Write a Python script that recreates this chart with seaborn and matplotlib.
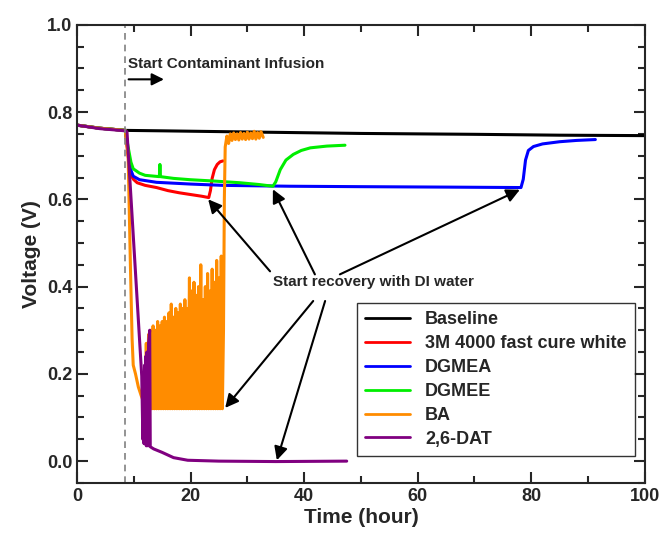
import matplotlib
matplotlib.use("Agg")
import matplotlib.pyplot as plt
from matplotlib.ticker import MultipleLocator
import pandas as pd
import seaborn as sns

sns.set_style("ticks")
plt.rcParams['font.family'] = ['Liberation Sans', 'DejaVu Sans']
plt.rcParams['font.weight'] = 'bold'

# values (time in hours, voltage in V)
base_t = [0, 4, 8.5, 15, 32, 50, 70, 85, 100]
base_v = [0.770, 0.763, 0.758, 0.757, 0.754, 0.751, 0.749, 0.747, 0.746]

red_t = [0, 4, 8.5, 9.0, 9.5, 10, 10.6, 12, 14, 16, 18, 20, 22, 23.2, 23.5, 23.8, 24.2, 24.7, 25.2, 25.7]
red_v = [0.770, 0.763, 0.758, 0.700, 0.655, 0.645, 0.638, 0.632, 0.627, 0.620, 0.615, 0.611, 0.607, 0.604,
         0.620, 0.648, 0.668, 0.680, 0.686, 0.688]

blue_t = [0, 4, 8.5, 9.0, 9.4, 9.9, 11, 14, 20, 25.7, 37.5, 50, 65, 78.2, 78.6, 79.0, 79.5, 80.4, 82, 85, 88, 91.3]
blue_v = [0.770, 0.763, 0.758, 0.710, 0.670, 0.653, 0.645, 0.639, 0.635, 0.632, 0.630, 0.629, 0.628, 0.627,
          0.646, 0.690, 0.712, 0.721, 0.727, 0.732, 0.735, 0.737]

green_t = [0, 4, 8.5, 9.0, 9.5, 9.9, 11, 12, 14.5, 14.6, 14.7, 17, 19.9, 24, 28.7, 32, 34.5, 35.0, 35.8, 36.8,
           38.1, 39.5, 41.1, 44, 47.2]
green_v = [0.770, 0.763, 0.758, 0.720, 0.685, 0.670, 0.660, 0.655, 0.652, 0.680, 0.652, 0.648, 0.645, 0.642,
           0.638, 0.634, 0.630, 0.640, 0.668, 0.690, 0.703, 0.712, 0.718, 0.722, 0.724]

ba_t = [0, 4, 8.5, 9.0, 9.4, 9.7, 9.9, 10.3, 10.8, 11.3, 11.6,
        12.0, 12.2, 12.4, 12.6, 12.8, 13.0, 13.2, 13.4, 13.6, 13.8, 14.0, 14.2, 14.4, 14.6, 14.8,
        15.0, 15.2, 15.4, 15.6, 15.8, 16.0, 16.2, 16.4, 16.6, 16.8, 17.0, 17.2, 17.4, 17.6, 17.8,
        18.0, 18.2, 18.4, 18.6, 18.8, 19.0, 19.2, 19.4, 19.6, 19.8, 20.0, 20.2, 20.4, 20.6, 20.8,
        21.0, 21.2, 21.4, 21.6, 21.8, 22.0, 22.2, 22.4, 22.6, 22.8, 23.0, 23.2, 23.4, 23.6, 23.8,
        24.0, 24.2, 24.4, 24.6, 24.8, 25.0, 25.2, 25.4, 25.6,
        25.8, 25.95, 26.1, 26.4, 26.7, 27.0, 27.3, 27.6, 27.9, 28.2, 28.5, 28.8, 29.1, 29.4, 29.7,
        30.0, 30.3, 30.6, 30.9, 31.2, 31.5, 31.8, 32.1, 32.4, 32.8]
ba_v = [0.770, 0.763, 0.758, 0.700, 0.450, 0.280, 0.220, 0.200, 0.170, 0.150, 0.140,
        0.14, 0.27, 0.13, 0.29, 0.13, 0.30, 0.12, 0.31, 0.12, 0.30, 0.12, 0.32, 0.12, 0.31, 0.12,
        0.32, 0.12, 0.33, 0.12, 0.32, 0.12, 0.34, 0.12, 0.36, 0.12, 0.33, 0.12, 0.35, 0.12, 0.34,
        0.12, 0.36, 0.12, 0.35, 0.12, 0.37, 0.12, 0.35, 0.12, 0.42, 0.12, 0.39, 0.12, 0.41, 0.12,
        0.38, 0.12, 0.40, 0.12, 0.45, 0.12, 0.37, 0.12, 0.40, 0.12, 0.43, 0.12, 0.39, 0.12, 0.44,
        0.12, 0.41, 0.12, 0.46, 0.12, 0.42, 0.12, 0.47, 0.12,
        0.30, 0.60, 0.720, 0.745, 0.728, 0.750, 0.735, 0.752, 0.737, 0.750, 0.736, 0.753, 0.738, 0.751, 0.737,
        0.754, 0.738, 0.752, 0.739, 0.756, 0.738, 0.753, 0.740, 0.755, 0.742]

dat_t = [0, 4, 8.5, 8.8, 11.4, 11.6, 11.7, 11.8, 11.9, 12.0, 12.1, 12.2, 12.3, 12.5, 12.6, 12.8, 12.9,
         13.5, 15, 17, 19.5, 25, 35, 47.5]
dat_v = [0.770, 0.762, 0.757, 0.755, 0.195, 0.05, 0.20, 0.04, 0.22, 0.04, 0.24, 0.035, 0.25, 0.035, 0.27,
         0.30, 0.033, 0.028, 0.020, 0.008, 0.002, 0.0, -0.001, 0.0]

names = ["Baseline", "3M 4000 fast cure white", "DGMEA", "DGMEE", "BA", "2,6-DAT"]
colors = ["black", "#ff0000", "#0000ff", "#00ee00", "#ff8c00", "#800080"]

frames = []
for name, t, v in zip(names, [base_t, red_t, blue_t, green_t, ba_t, dat_t],
                      [base_v, red_v, blue_v, green_v, ba_v, dat_v]):
    frames.append(pd.DataFrame({"t": t, "v": v, "series": name}))
df = pd.concat(frames, ignore_index=True)

fig, ax = plt.subplots(figsize=(6.64, 5.39), dpi=100)
fig.subplots_adjust(left=0.116, right=0.971, top=0.954, bottom=0.104)

sns.lineplot(data=df, x="t", y="v", hue="series", hue_order=names, palette=colors,
             estimator=None, sort=False, units="series", lw=2.2, ax=ax)

ax.axvline(8.5, color="gray", ls="--", lw=1.2, dashes=(4, 3))

ax.set_xlim(0, 100)
ax.set_ylim(-0.05, 1.0)
ax.xaxis.set_major_locator(MultipleLocator(20))
ax.xaxis.set_minor_locator(MultipleLocator(10))
ax.yaxis.set_major_locator(MultipleLocator(0.2))
ax.yaxis.set_minor_locator(MultipleLocator(0.05))
ax.tick_params(which="both", direction="in", top=True, right=True, width=1.5, labelsize=13)
ax.tick_params(which="major", length=8)
ax.tick_params(which="minor", length=5)
for s in ax.spines.values():
    s.set_linewidth(1.5)
ax.set_xlabel("Time (hour)", fontsize=15, fontweight="bold", labelpad=2)
ax.set_ylabel("Voltage (V)", fontsize=15, fontweight="bold", labelpad=4)

# annotations
ax.text(9.0, 0.91, "Start Contaminant Infusion", fontsize=11, fontweight="bold", va="center")
ax.annotate("", xy=(15.8, 0.875), xytext=(8.6, 0.875),
            arrowprops=dict(arrowstyle="-|>", color="black", lw=1.5, mutation_scale=18))
ax.text(52.2, 0.41, "Start recovery with DI water", fontsize=11, fontweight="bold",
        ha="center", va="center")
arrows = [((23.1, 0.600), (34.0, 0.435)),
          ((34.5, 0.623), (41.9, 0.428)),
          ((78.0, 0.622), (46.3, 0.428)),
          ((26.1, 0.122), (41.6, 0.367)),
          ((35.2, 0.002), (43.7, 0.367))]
for tip, start in arrows:
    ax.annotate("", xy=tip, xytext=start,
                arrowprops=dict(arrowstyle="-|>", color="black", lw=1.5, mutation_scale=20,
                                shrinkA=0, shrinkB=0))

handles, labels = ax.get_legend_handles_labels()
leg = ax.legend(handles, labels, loc="lower right", bbox_to_anchor=(0.982, 0.059),
                prop={"weight": "bold", "size": 13}, frameon=True, fancybox=False,
                edgecolor="black", handlelength=2.5, labelspacing=0.38, borderpad=0.45,
                borderaxespad=0)
leg.get_frame().set_linewidth(1.0)
for line in leg.get_lines():
    line.set_linewidth(2)

fig.savefig("out.png", dpi=100)
